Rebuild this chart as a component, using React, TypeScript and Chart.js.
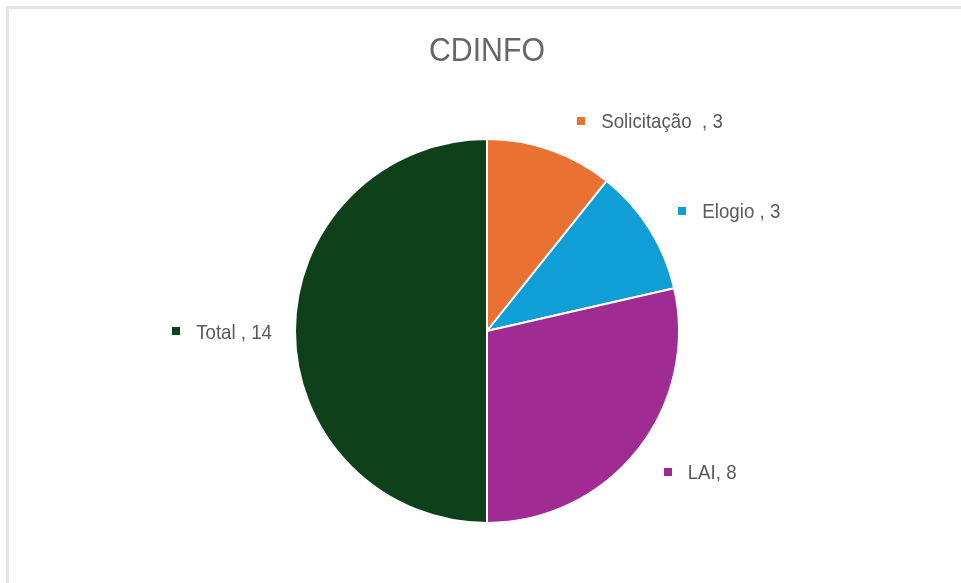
import React, { useEffect, useRef } from "react";
import { Chart, registerables } from "chart.js";

Chart.register(...registerables);

const chartTitle = "CDINFO";
const categories = ["Solicitação  ", "Elogio ", "LAI", "Total "];
const values = [3, 3, 8, 14];
const colors = ["#E97132", "#0F9ED5", "#A02B93", "#0E4019"];

const SX = 0.89;

const labelPlugin = {
  id: "outsideLabels",
  afterDraw(chart: any) {
    const ctx = chart.ctx as CanvasRenderingContext2D;
    const meta = chart.getDatasetMeta(0);
    let cx = 0;
    meta.data.forEach((arc: any, i: number) => {
      const p = arc.getProps(["x", "y", "startAngle", "endAngle", "outerRadius"], true);
      cx = p.x;
      const mid = (p.startAngle + p.endAngle) / 2;
      const dx = Math.cos(mid);
      const dy = Math.sin(mid);
      const right = dx >= 0;
      const R = p.outerRadius + (right ? 34 : 23);
      const ax = p.x + R * dx;
      let ay = p.y + R * dy;
      const text = `${categories[i]}, ${values[i]}`;
      ctx.save();
      ctx.font = '21px "Liberation Sans", Arial, sans-serif';
      const tw = ctx.measureText(text).width * SX;
      const boxW = 8 + 16 + tw;
      let left = right ? ax : ax - boxW;
      if (right) {
        const minLeft = p.x + 0.47 * p.outerRadius;
        if (left < minLeft) {
          left = minLeft;
          ay += 3;
        }
      }
      ctx.fillStyle = colors[i];
      ctx.fillRect(Math.round(left), Math.round(ay - 4), 8, 8);
      ctx.fillStyle = "#595959";
      ctx.textBaseline = "alphabetic";
      ctx.textAlign = "left";
      ctx.translate(left + 24, ay + 7.5);
      ctx.scale(SX, 1);
      ctx.fillText(text, 0, 0);
      ctx.restore();
    });
    ctx.save();
    ctx.font = '34px "Liberation Sans", Arial, sans-serif';
    ctx.fillStyle = "#666666";
    ctx.textAlign = "center";
    ctx.textBaseline = "alphabetic";
    ctx.translate(cx, 61);
    ctx.scale(SX, 1);
    ctx.fillText(chartTitle, 0, 0);
    ctx.restore();
  },
};

export default function App() {
  const ref = useRef<HTMLCanvasElement>(null);
  useEffect(() => {
    if (!ref.current) return;
    const chart = new Chart(ref.current, {
      type: "pie",
      data: {
        labels: categories,
        datasets: [
          {
            data: values,
            backgroundColor: colors,
            borderColor: "#ffffff",
            borderWidth: 2,
          },
        ],
      },
      options: {
        responsive: false,
        animation: false,
        devicePixelRatio: 1,
        radius: 192,
        layout: { padding: { left: 13, right: 0, top: 79, bottom: 0 } },
        plugins: {
          legend: { display: false },
          tooltip: { enabled: false },
          title: { display: false },
        },
      } as any,
      plugins: [labelPlugin],
    });
    return () => chart.destroy();
  }, []);
  return (
    <div style={{ position: "absolute", left: 0, top: 0, width: 961, height: 583, overflow: "hidden", background: "#fff" }}>
      <div
        style={{
          position: "absolute",
          left: 6,
          top: 6,
          width: 955,
          height: 577,
          boxSizing: "border-box",
          borderTop: "3px solid #e4e4e4",
          borderLeft: "3px solid #e4e4e4",
        }}
      />
      <canvas
        ref={ref}
        width={961}
        height={583}
        style={{ position: "absolute", left: 0, top: 0, width: 961, height: 583, display: "block" }}
      />
    </div>
  );
}
